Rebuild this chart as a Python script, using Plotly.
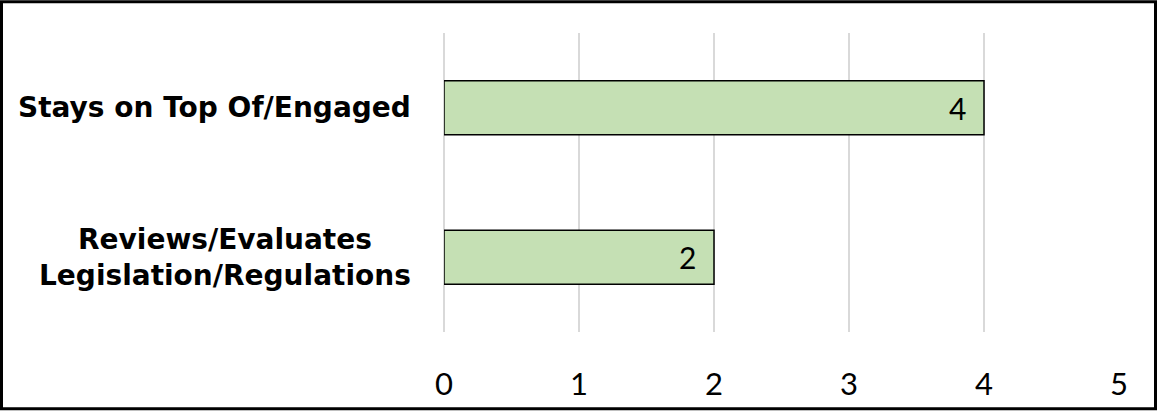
import plotly.graph_objects as go

categories = ["Reviews/Evaluates<br>Legislation/Regulations", "Stays on Top Of/Engaged"]
values = [2, 4]
tick_vals = [0, 1, 2, 3, 4, 5]

W, H = 1157, 414
L, R, T, B = 444, 38, 33, 79
pw, ph = W - L - R, H - T - B

fig = go.Figure()
fig.add_trace(go.Bar(
    y=categories, x=values, orientation="h",
    marker=dict(color="#C5E0B4", line=dict(color="black", width=1.5)),
    width=0.36,
    textposition="none",
))

for c, v in zip(categories, values):
    fig.add_annotation(
        x=v, xref="x", y=c, yref="y", text=str(v), showarrow=False,
        xanchor="center", xshift=-27,
        font=dict(family="Lato", size=30, color="black"),
    )
    fig.add_annotation(
        x=(413 - L) / pw, xref="paper", y=c, yref="y",
        text="<b>" + c + "</b>", showarrow=False, xanchor="right", align="center",
        font=dict(family="DejaVu Sans", size=28, color="black"),
    )

fig.add_shape(type="rect", xref="paper", yref="paper",
              x0=-(L - 1.5) / pw, x1=1 + (R - 1.5) / pw,
              y0=-(B - 1.5) / ph, y1=1 + (T - 1.5) / ph,
              line=dict(color="black", width=3), layer="above")

fig.update_layout(
    width=W, height=H,
    margin=dict(l=L, r=R, t=T, b=B),
    paper_bgcolor="white", plot_bgcolor="white",
    showlegend=False,
    xaxis=dict(range=[0, 5], tickvals=tick_vals, showgrid=True, gridcolor="#D9D9D9", gridwidth=1.5,
               zeroline=True, zerolinecolor="#D9D9D9", zerolinewidth=1.5,
               showline=False, ticks="", ticklabelstandoff=31,
               tickfont=dict(family="Lato", size=31, color="black")),
    yaxis=dict(showticklabels=False, showgrid=False, zeroline=False, showline=False,
               categoryorder="array", categoryarray=categories),
    bargap=0.64,
)

fig.write_html("out.html")
